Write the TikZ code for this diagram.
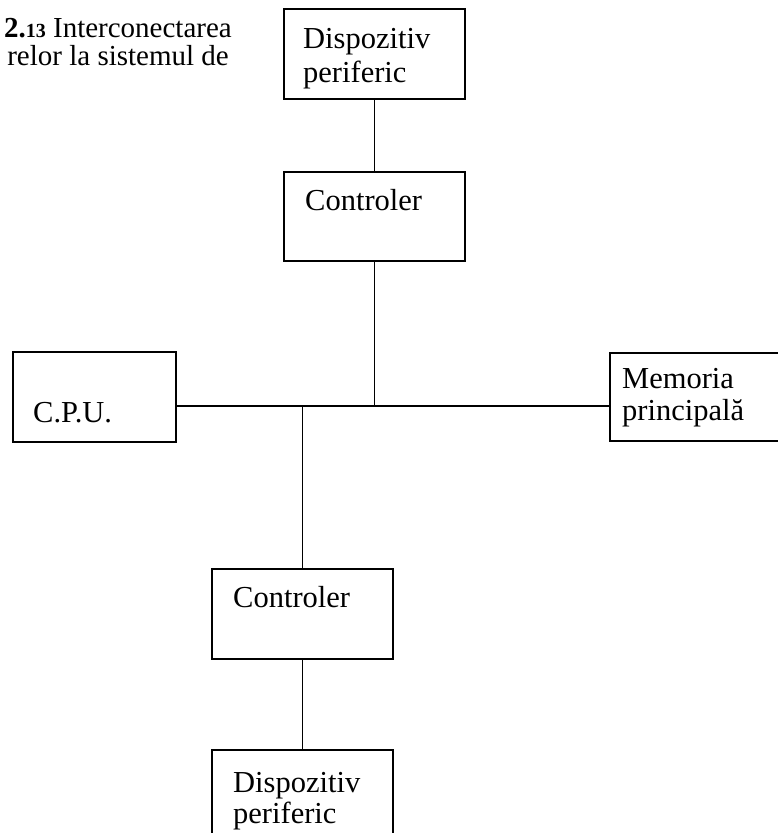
\documentclass[tikz,border=0pt]{standalone}
\usepackage{fontspec}
\setmainfont{Liberation Serif}
\begin{document}
\begin{tikzpicture}[x=1pt,y=-1pt,
  box/.style={draw, line width=1.8pt, rectangle, inner sep=0pt},
  txt/.style={inner sep=0pt, anchor=base west, font=\fontsize{30.5}{36}\selectfont},
  captxt/.style={inner sep=0pt, anchor=base east, font=\fontsize{29}{34}\selectfont},
  wire/.style={line width=1.8pt}]
\useasboundingbox (0,0) rectangle (778,833);
\clip (0,0) rectangle (778,833);
% boxes
\node[box, minimum width=181pt, minimum height=90pt] (dp1) at (374.5,54) {};
\node[box, minimum width=181pt, minimum height=89pt] (c1) at (374.5,216.5) {};
\node[box, minimum width=163pt, minimum height=90pt] (cpu) at (94.5,397) {};
\node[box, minimum width=180pt, minimum height=88pt] (mem) at (700,397) {};
\node[box, minimum width=181pt, minimum height=90pt] (c2) at (302.5,614) {};
\node[box, minimum width=181pt, minimum height=95pt] (dp2) at (302.5,797.5) {};
% junctions
\coordinate (j1) at (374.5,406);
\coordinate (j2) at (302.5,406);
% connectors
\draw[wire] (dp1) -- (c1);
\draw[wire] (c1.south) -- (j1);
\draw[wire] (cpu.east |- j1) -- (mem.west |- j1);
\draw[wire] (j2) -- (c2.north);
\draw[wire] (c2) -- (dp2);
% texts
\node[txt] (t1) at (303,48) {Dispozitiv};
\node[txt] (t2) at (303,82) {periferic};
\node[txt] (t3) at (305,210) {Controler};
\node[txt] (t4) at (33,422) {C.P.U.};
\node[txt] (t5) at (622,388) {Memoria};
\node[txt] (t6) at (622,420) {principală};
\node[txt] (t7) at (233,607) {Controler};
\node[txt] (t8) at (233,792) {Dispozitiv};
\node[txt] (t9) at (233,823) {periferic};
% caption
\node[captxt] (cap1) at (232,37) {\textbf{2.{\fontsize{20}{22}\selectfont 13}} Interconectarea};
\node[captxt] (cap2) at (229,65) {relor la sistemul de};
\end{tikzpicture}
\end{document}
